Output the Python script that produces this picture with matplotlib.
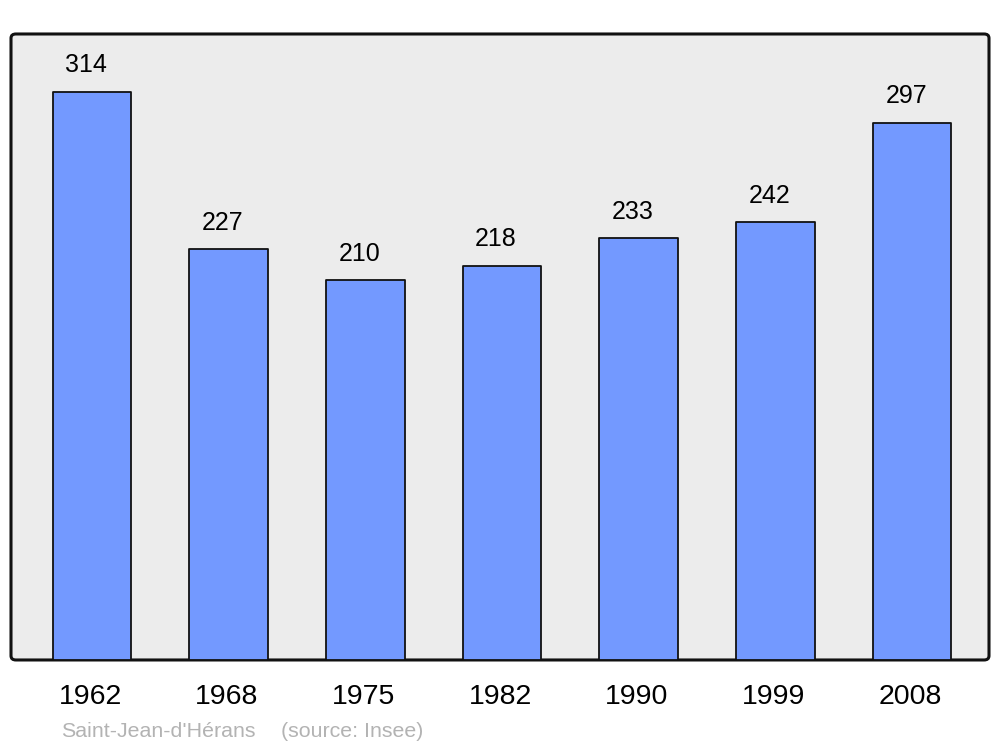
#!/usr/bin/env python3
# -*- coding: utf-8 -*-

import matplotlib
matplotlib.use('Agg')
import matplotlib.pyplot as plt
import matplotlib.transforms as mtransforms
from matplotlib.patches import FancyBboxPatch

# data
years = ['1962', '1968', '1975', '1982', '1990', '1999', '2008']
population = [314, 227, 210, 218, 233, 242, 297]
commune = "Saint-Jean-d'Hérans"
source = "(source: Insee)"

plt.rcParams['font.family'] = ['Liberation Sans', 'DejaVu Sans']

fig = plt.figure(figsize=(10, 7.47), dpi=100)
ax = fig.add_axes([0.011, 0.1165, 0.978, 0.838])
ax.set_facecolor('none')

# rounded frame behind the bars
frame = FancyBboxPatch((0, 0), 1, 1, boxstyle='round,pad=0,rounding_size=0.005',
                       mutation_aspect=1000/747, transform=ax.transAxes,
                       facecolor='#ececec', edgecolor='#111111', linewidth=2.2,
                       zorder=0, clip_on=False)
ax.add_patch(frame)

x = range(len(years))
bars = ax.bar(x, population, width=0.575, color='#7399ff', edgecolor='#111111',
              linewidth=1.3, zorder=2)
for b in bars:
    b.set_joinstyle('round')

for xi, v in zip(x, population):
    ax.annotate(str(v), (xi, v), xytext=(-4.3, 19), textcoords='offset points',
                ha='center', va='center', fontsize=18)

ax.set_xlim(-0.593, len(years) - 1 + 0.563)
ax.set_ylim(0, 346)
ax.set_xticks(list(x))
ax.set_xticklabels(years, fontsize=20.5)
ax.tick_params(axis='x', length=0, pad=17)
shift = mtransforms.ScaledTranslation(-0.02, 0, fig.dpi_scale_trans)
for lab in ax.get_xticklabels():
    lab.set_transform(lab.get_transform() + shift)
ax.set_yticks([])
for s in ax.spines.values():
    s.set_visible(False)

fig.text(0.061, 1 - 731.5/747, commune, color='#b3b3b3', fontsize=15.4,
         ha='left', va='center')
fig.text(0.281, 1 - 731.5/747, source, color='#b3b3b3', fontsize=15.4,
         ha='left', va='center')

fig.savefig('out.png', dpi=100)
